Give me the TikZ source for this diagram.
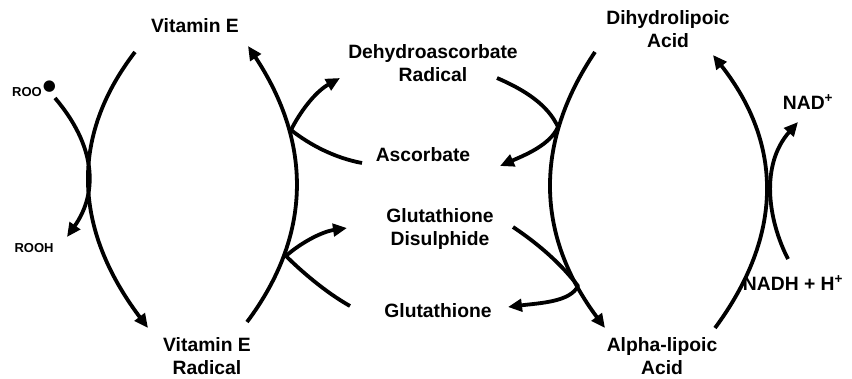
\documentclass[tikz,border=0pt]{standalone}
\usepackage{fontspec}
\setmainfont{Liberation Sans}
\newfontfamily\symfont{DejaVu Sans}
\usetikzlibrary{arrows.meta}
\tikzset{
  lbl/.style={font=\fontsize{19.3}{23}\selectfont\bfseries, align=center, inner sep=0pt},
  minor/.style={font=\fontsize{13}{15}\selectfont\bfseries, inner sep=0pt},
  flow/.style={-{Triangle[length=14pt, width=12.5pt]}, line width=3.8pt, line join=round, draw=black},
}

\begin{document}
\begin{tikzpicture}[x=1pt, y=-1pt]
  \useasboundingbox (0,0) rectangle (852,378);

  \node[lbl] (vite) at (195,26) {Vitamin E};
  \node[lbl] (viter) at (207,356) {Vitamin E\\Radical};
  \node[minor, anchor=base west] (roo) at (12,96) {ROO\hspace{1pt}\raisebox{6pt}{\symfont\fontsize{15}{15}\selectfont ●}};
  \node[minor] (rooh) at (34,248) {ROOH};
  \node[lbl] (dha) at (433,63) {Dehydroascorbate\\Radical};
  \node[lbl] (asc) at (423,155) {Ascorbate};
  \node[lbl] (gssg) at (440,229) {Glutathione\\Disulphide};
  \node[lbl] (gsh) at (438,311) {Glutathione};
  \node[lbl] (dhla) at (668,29) {Dihydrolipoic\\Acid};
  \node[lbl] (ala) at (662,356) {Alpha-lipoic\\Acid};
  \node[lbl] (nad) at (808,102) {NAD\textsuperscript{+}};
  \node[lbl] (nadh) at (793,283) {NADH + H\textsuperscript{+}};

  \coordinate (veout) at (135,52);
  \coordinate (vrin) at (148,328);
  \coordinate (vrout) at (247,322);
  \coordinate (vein) at (248,46);
  \coordinate (rooout) at (55,98);
  \coordinate (roohin) at (67,237);
  \coordinate (ascout) at (362,163);
  \coordinate (ascjoin) at (291,130);
  \coordinate (dhain) at (340,78);
  \coordinate (gshout) at (350,306);
  \coordinate (gshjoin) at (286,256);
  \coordinate (gssgin) at (347,228);
  \coordinate (dhlaout) at (595,52);
  \coordinate (alain) at (605,328);
  \coordinate (dhaout) at (497,78);
  \coordinate (dhajoin) at (558,127);
  \coordinate (ascin) at (500,166);
  \coordinate (gssgout) at (513,227);
  \coordinate (gssgjoin) at (578,286);
  \coordinate (gshin) at (508,307);
  \coordinate (alaout) at (715,328);
  \coordinate (dhlain) at (713,55);
  \coordinate (nadhout) at (788,259);
  \coordinate (nadin) at (798,122);

  \draw[flow] (veout) .. controls (69.3,137.3) and (73.7,229.3) .. (vrin);
  \draw[flow] (rooout) .. controls (95,145) and (99,191.3) .. (roohin);
  \draw[flow] (vrout) .. controls (312,235.3) and (312.3,143.3) .. (vein);
  \draw[flow] (dhlaout) .. controls (533,144) and (536.3,236) .. (alain);
  \draw[flow] (alaout) .. controls (783.7,235) and (783,144) .. (dhlain);

  \draw[flow] (ascout) .. controls (335,158) and (310,145) .. (ascjoin)
    .. controls (300,112) and (315,92) .. (dhain);
  \draw[flow] (gshout) .. controls (325,292) and (300,270) .. (gshjoin)
    .. controls (298,245) and (320,232) .. (gssgin);
  \draw[flow] (dhaout) .. controls (525,90) and (548,105) .. (dhajoin)
    .. controls (550,145) and (525,155) .. (ascin);
  \draw[flow] (gssgout) .. controls (540,245) and (562,265) .. (gssgjoin)
    .. controls (570,302) and (540,303) .. (gshin);
  \draw[flow] (nadhout) .. controls (768,220) and (760,165) .. (nadin);
\end{tikzpicture}
\end{document}
